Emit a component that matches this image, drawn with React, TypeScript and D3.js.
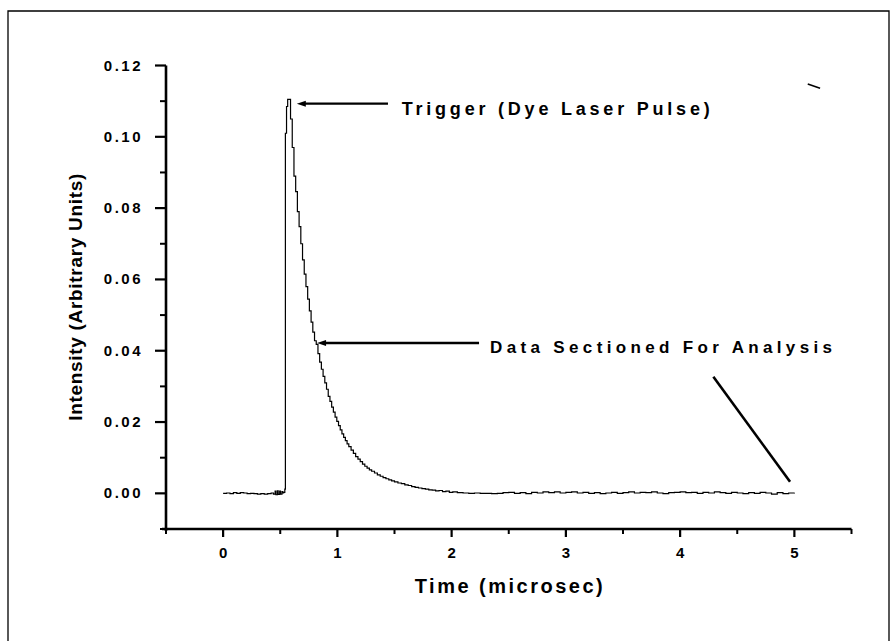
import React from "react";
import * as d3 from "d3";

// ---- data ----
const xDomain = [-0.5, 5.5];
const yDomain = [-0.01, 0.12];
const xMajorTicks = [0, 1, 2, 3, 4, 5];
const xMinorTicks = [-0.5, 0.5, 1.5, 2.5, 3.5, 4.5, 5.5];
const yMajorTicks = [0, 0.02, 0.04, 0.06, 0.08, 0.1, 0.12];
const yMinorTicks = [-0.01, 0.01, 0.03, 0.05, 0.07, 0.09, 0.11];
const xTitle = "Time (microsec)";
const yTitle = "Intensity (Arbitrary Units)";

// [time (µs), intensity]
const trace: [number, number][] = [
  [0.0, 0.0], [0.03, 0.0001], [0.06, -0.0001], [0.09, 0.0002], [0.12, 0.0], [0.15, 0.0002],
  [0.18, 0.0001], [0.21, -0.0001], [0.24, 0.0], [0.27, -0.0001], [0.3, -0.0002], [0.33, -0.0001],
  [0.36, -0.0002], [0.39, -0.0001], [0.42, 0.0001], [0.44, -0.0002], [0.455, 0.0006], [0.462, -0.0004],
  [0.475, 0.0007], [0.482, -0.0003], [0.495, 0.0006], [0.502, -0.0002], [0.515, 0.0005], [0.522, 0.0001],
  [0.53, 0.0003], [0.54, 0.0012], [0.545, 0.101], [0.555, 0.1085], [0.565, 0.1105], [0.59, 0.105],
  [0.605, 0.097], [0.62, 0.089], [0.635, 0.0846], [0.65, 0.079], [0.665, 0.0748], [0.68, 0.07],
  [0.695, 0.0655], [0.71, 0.0615], [0.725, 0.058], [0.74, 0.0545], [0.755, 0.0512], [0.77, 0.048],
  [0.785, 0.0452], [0.8, 0.0428], [0.815, 0.0418], [0.83, 0.0392], [0.845, 0.0368], [0.86, 0.0348],
  [0.875, 0.0328], [0.89, 0.031], [0.905, 0.0292], [0.92, 0.0272], [0.935, 0.0258], [0.95, 0.0242],
  [0.965, 0.0228], [0.98, 0.0214], [0.995, 0.0202], [1.01, 0.019], [1.025, 0.0178], [1.04, 0.0167],
  [1.055, 0.0157], [1.07, 0.0148], [1.085, 0.0139], [1.1, 0.0131], [1.12, 0.0121], [1.14, 0.0112],
  [1.16, 0.0103], [1.18, 0.0096], [1.2, 0.0089], [1.22, 0.0082], [1.24, 0.0076], [1.26, 0.0071],
  [1.28, 0.0066], [1.3, 0.0062], [1.325, 0.0057], [1.35, 0.0052], [1.375, 0.0048], [1.4, 0.0044],
  [1.425, 0.0041], [1.45, 0.0038], [1.475, 0.0035], [1.5, 0.0032], [1.53, 0.0029], [1.56, 0.0027],
  [1.59, 0.0024], [1.62, 0.0022], [1.65, 0.0019], [1.68, 0.0017], [1.71, 0.0015], [1.74, 0.0013],
  [1.77, 0.0012], [1.8, 0.001], [1.83, 0.0009], [1.86, 0.0007], [1.89, 0.0008], [1.92, 0.0005],
  [1.95, 0.0006], [1.98, 0.0003], [2.01, 0.0004], [2.05, 0.0002], [2.1, 0.0001], [2.15, 0.0],
  [2.2, 0.0001], [2.25, 0.0], [2.3, 0.0], [2.35, -0.0001], [2.4, 0.0], [2.45, 0.0002],
  [2.5, 0.0003], [2.55, 0.0], [2.6, 0.0002], [2.65, -0.0001], [2.7, 0.0003], [2.75, 0.0001],
  [2.8, 0.0004], [2.85, 0.0002], [2.9, 0.0004], [2.95, 0.0001], [3.0, 0.0003], [3.05, 0.0004],
  [3.1, 0.0001], [3.15, 0.0003], [3.2, 0.0], [3.25, 0.0002], [3.3, -0.0001], [3.35, 0.0001],
  [3.4, 0.0003], [3.45, 0.0], [3.5, 0.0002], [3.55, 0.0004], [3.6, 0.0001], [3.65, 0.0003],
  [3.7, 0.0002], [3.75, 0.0004], [3.8, 0.0001], [3.85, -0.0001], [3.9, 0.0002], [3.95, 0.0003],
  [4.0, 0.0004], [4.05, 0.0002], [4.1, 0.0003], [4.15, 0.0], [4.2, 0.0003], [4.25, 0.0001],
  [4.3, 0.0004], [4.35, 0.0002], [4.4, 0.0], [4.45, 0.0003], [4.5, 0.0001], [4.55, -0.0001],
  [4.6, 0.0002], [4.65, 0.0], [4.7, 0.0003], [4.75, 0.0001], [4.8, -0.0002], [4.85, 0.0002],
  [4.9, -0.0001], [4.95, 0.0001], [5.0, 0.0002],
];

// annotations in data coordinates
const triggerLabel = { text: "Trigger (Dye Laser Pulse)", t: 1.563, v: 0.1061, tipT: 0.645, tailT: 1.443, lineV: 0.1093 };
const sectionLabel = { text: "Data Sectioned For Analysis", t: 2.336, v: 0.03935, tipT: 0.822, tailT: 2.24, lineV: 0.04216 };
const sectionDiagonal: [number, number][] = [[4.291, 0.03271], [4.962, 0.00325]];
const strayMark: [number, number][] = [[5.117, 0.1148], [5.225, 0.1136]];

const W = 893;
const H = 641;
const FONT = "'Liberation Sans', Arial, Helvetica, sans-serif";

export default function App() {
  const x = d3.scaleLinear().domain(xDomain).range([166, 851.5]);
  const y = d3.scaleLinear().domain(yDomain).range([529, 65.5]);
  const line = d3
    .line<[number, number]>()
    .x((d) => x(d[0]))
    .y((d) => y(d[1]))
    .curve(d3.curveStepAfter);
  const seg = d3.line<[number, number]>().x((d) => x(d[0])).y((d) => y(d[1]));
  const fmt = d3.format(".2f");
  const x0 = x(xDomain[0]);
  const y0 = y(yDomain[0]);

  const arrow = (a: typeof triggerLabel) => {
    const tx = x(a.tipT);
    const ty = y(a.lineV);
    return (
      <g>
        <line x1={tx + 6} y1={ty} x2={x(a.tailT)} y2={ty} stroke="#000" strokeWidth={2.4} />
        <path d={`M${tx},${ty} L${tx + 9},${ty - 3} L${tx + 9},${ty + 3} Z`} fill="#000" />
      </g>
    );
  };

  return (
    <svg
      width={W}
      height={H}
      style={{ position: "absolute", left: 0, top: 0, background: "#fff" }}
      fontFamily={FONT}
    >
      <rect x={0} y={0} width={W} height={H} fill="#fff" />
      {/* page frame */}
      <path d={`M8,${H + 5} L8,11 L889,11 L889,${H + 5}`} fill="none" stroke="#000" strokeWidth={1.3} />

      {/* trace */}
      <path d={line(trace) || ""} fill="none" stroke="#000" strokeWidth={1.2} />

      {/* y axis */}
      <line x1={x0} y1={y(yDomain[1])} x2={x0} y2={y0 + 2} stroke="#000" strokeWidth={2.6} />
      {yMajorTicks.map((v) => (
        <g key={"ym" + v}>
          <line x1={x0 - 11} y1={y(v)} x2={x0} y2={y(v)} stroke="#000" strokeWidth={2.2} />
          <text
            x={143}
            y={y(v) + 5}
            textAnchor="end"
            fontSize={15}
            fontWeight="bold"
            letterSpacing={2.5}
          >
            {fmt(v)}
          </text>
        </g>
      ))}
      {yMinorTicks.map((v) => (
        <line key={"yn" + v} x1={x0 - 6} y1={y(v)} x2={x0} y2={y(v)} stroke="#000" strokeWidth={2} />
      ))}

      {/* x axis */}
      <line x1={x0 - 4} y1={y0} x2={x(xDomain[1])} y2={y0} stroke="#000" strokeWidth={2.6} />
      {xMajorTicks.map((t) => (
        <g key={"xm" + t}>
          <line x1={x(t)} y1={y0} x2={x(t)} y2={y0 + 8} stroke="#000" strokeWidth={2.2} />
          <text x={x(t)} y={557.5} textAnchor="middle" fontSize={15} fontWeight="bold">
            {t}
          </text>
        </g>
      ))}
      {xMinorTicks.map((t) => (
        <line key={"xn" + t} x1={x(t)} y1={y0} x2={x(t)} y2={y0 + 5} stroke="#000" strokeWidth={2} />
      ))}

      {/* axis titles */}
      <text
        x={(x(xDomain[0]) + x(xDomain[1])) / 2}
        y={593}
        textAnchor="middle"
        fontSize={20}
        fontWeight="bold"
        textLength={188}
        lengthAdjust="spacing"
      >
        {xTitle}
      </text>
      <text
        transform={`translate(82,${(y(yDomain[0]) + y(yDomain[1])) / 2}) rotate(-90)`}
        textAnchor="middle"
        fontSize={19}
        fontWeight="bold"
        textLength={247}
        lengthAdjust="spacing"
      >
        {yTitle}
      </text>

      {/* annotations */}
      {arrow(triggerLabel)}
      <text
        x={x(triggerLabel.t)}
        y={y(triggerLabel.v)}
        fontSize={18}
        fontWeight="bold"
        textLength={308}
        lengthAdjust="spacing"
      >
        {triggerLabel.text}
      </text>
      {arrow(sectionLabel)}
      <text
        x={x(sectionLabel.t)}
        y={y(sectionLabel.v)}
        fontSize={17}
        fontWeight="bold"
        textLength={342}
        lengthAdjust="spacing"
      >
        {sectionLabel.text}
      </text>
      <path d={seg(sectionDiagonal) || ""} stroke="#000" strokeWidth={2.6} fill="none" />
      <path d={seg(strayMark) || ""} stroke="#000" strokeWidth={1.6} fill="none" />
    </svg>
  );
}
